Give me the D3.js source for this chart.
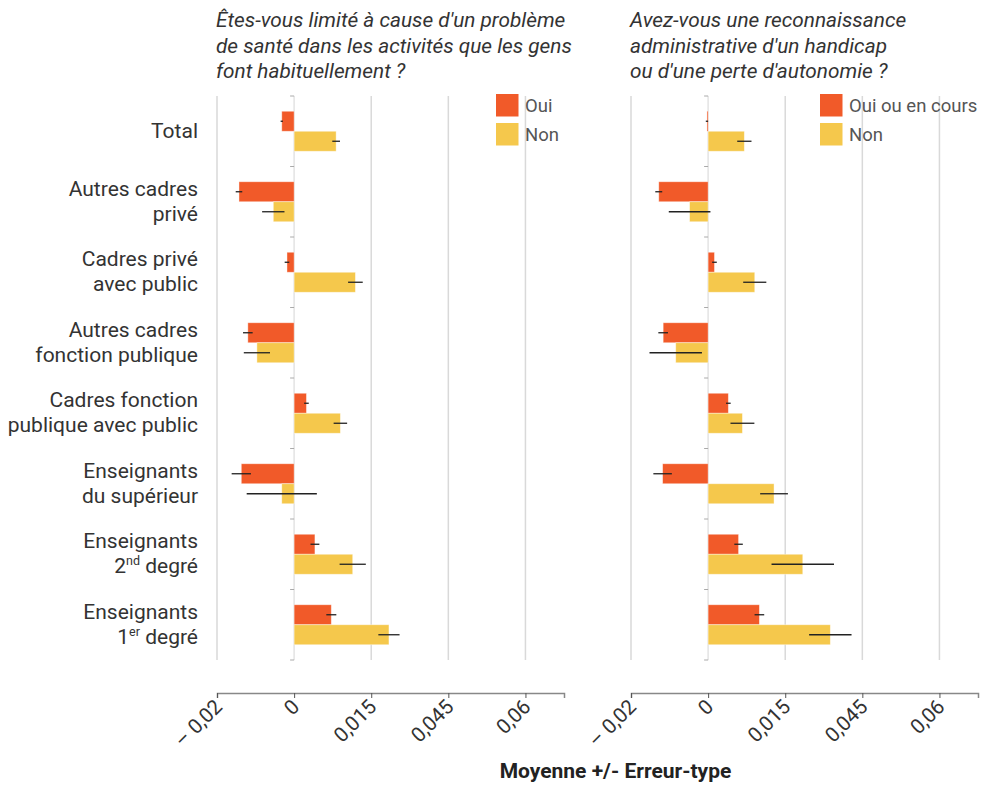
<!DOCTYPE html>
<html><head><meta charset="utf-8">
<script src="https://cdn.jsdelivr.net/npm/d3@7/dist/d3.min.js"></script>
<style>
body{margin:0;background:#fff;}
svg{display:block;font-family:Roboto, "DejaVu Sans", sans-serif;}
</style></head><body>
<svg id="chart" width="985" height="785"></svg>
<script>
const categories = ["Total","Autres cadres privé","Cadres privé avec public","Autres cadres fonction publique","Cadres fonction publique avec public","Enseignants du supérieur","Enseignants 2nd degré","Enseignants 1er degré"];
const categoryLines = [
  [["Total"]],
  [["Autres cadres"],["privé"]],
  [["Cadres privé"],["avec public"]],
  [["Autres cadres"],["fonction publique"]],
  [["Cadres fonction"],["publique avec public"]],
  [["Enseignants"],["du supérieur"]],
  [["Enseignants"],["2","nd"," degré"]],
  [["Enseignants"],["1","er"," degré"]]
];
const series = ["a","b"];
// Panel 1: limitation
const leftTitle = ["Êtes-vous limité à cause d'un problème","de santé dans les activités que les gens","font habituellement ?"];
const leftLegend = ["Oui","Non"];
const leftOui    = [-0.0032,-0.0143,-0.00185,-0.0120,0.0032,-0.0137,0.0054,0.00965];
const leftOuiErr = [0.0003,0.00085,0.0006,0.00125,0.0006,0.0025,0.00115,0.0013];
const leftNon    = [0.0109,-0.0054,0.0159,-0.00965,0.0120,-0.0032,0.0152,0.0246];
const leftNonErr = [0.0010,0.0029,0.0019,0.0034,0.00175,0.0091,0.0034,0.00275];
// Panel 2: reconnaissance
const rightTitle = ["Avez-vous une reconnaissance","administrative d'un handicap","ou d'une perte d'autonomie ?"];
const rightLegend = ["Oui ou en cours","Non"];
const rightOui    = [-0.0003,-0.0128,0.00165,-0.01166,0.00525,-0.0118,0.0079,0.0133];
const rightOuiErr = [0.0003,0.0009,0.0006,0.00125,0.0006,0.0024,0.0011,0.00125];
const rightNon    = [0.0094,-0.0048,0.0121,-0.0084,0.0089,0.0171,0.02455,0.0317];
const rightNonErr = [0.00185,0.0054,0.0030,0.0068,0.0031,0.0036,0.0081,0.0055];
const tickValues = [-0.02,0,0.02,0.04,0.06];
const tickLabels = ["– 0,02","0","0,015","0,045","0,06"];
const axisTitle = "Moyenne +/- Erreur-type";
const colors = {a:"#f15a29", b:"#f5c84c"};

const svg = d3.select("#chart");
const y0 = d3.scaleBand().domain(categories).range([96,660]);
const y1 = d3.scaleBand().domain(series).range([0,y0.bandwidth()]).paddingOuter(0.7625);
const axisY = 693;

// category labels
const lab = svg.append("g").attr("fill","#333").attr("font-size",21).attr("text-anchor","end");
categories.forEach((c,i)=>{
  const cy = y0(c)+y0.bandwidth()/2;
  const lines = categoryLines[i];
  const n = lines.length;
  lines.forEach((parts,j)=>{
    const base = cy + 6.5 + (j-(n-1)/2)*25;
    const t = lab.append("text").attr("x",198).attr("y",base);
    if(parts.length===1){ t.text(parts[0]); }
    else{
      t.append("tspan").text(parts[0]);
      t.append("tspan").attr("font-size",12.5).attr("dy",-8).text(parts[1]);
      t.append("tspan").attr("dy",8).text(parts[2]);
    }
  });
});

function panel(x0, title, legend, legendX, oui, ouiErr, non, nonErr){
  const x = d3.scaleLinear().domain([-0.02,0.07]).range([x0, x0+347]);
  const g = svg.append("g");
  // title
  const tt = g.append("text").attr("font-style","italic").attr("font-size",20.8).attr("fill","#333");
  title.forEach((l,i)=>tt.append("tspan").attr("x",x0-1).attr("y",27+i*25.5).text(l));
  // grid
  g.selectAll(".grid").data(tickValues.filter(v=>v!==0)).join("line")
    .attr("x1",d=>x(d)).attr("x2",d=>x(d)).attr("y1",96).attr("y2",660)
    .attr("stroke","#d9d9d9").attr("stroke-width",1.5);
  // zero line with band ticks
  g.append("line").attr("x1",x(0)).attr("x2",x(0)).attr("y1",96).attr("y2",660)
    .attr("stroke","#e3e3e3").attr("stroke-width",1.5);
  const bounds = categories.map(c=>y0(c)).concat([y0.range()[1]]);
  g.selectAll(".bt").data(bounds).join("line")
    .attr("x1",x(0)-4).attr("x2",x(0)).attr("y1",d=>d).attr("y2",d=>d)
    .attr("stroke","#aaa").attr("stroke-width",1);
  // bars
  const data = categories.map((c,i)=>({c, vals:[{s:"a",v:oui[i],e:ouiErr[i]},{s:"b",v:non[i],e:nonErr[i]}]}));
  const cg = g.selectAll(".cat").data(data).join("g").attr("transform",d=>`translate(0,${y0(d.c)})`);
  cg.selectAll("rect").data(d=>d.vals).join("rect")
    .attr("x",d=>x(Math.min(0,d.v))).attr("width",d=>Math.abs(x(d.v)-x(0)))
    .attr("y",d=>y1(d.s)).attr("height",y1.bandwidth())
    .attr("fill",d=>colors[d.s]).attr("stroke","rgba(255,255,255,0.5)").attr("stroke-width",0.8);
  cg.selectAll("line.err").data(d=>d.vals).join("line").attr("class","err")
    .attr("x1",d=>x(d.v-d.e)).attr("x2",d=>x(d.v+d.e))
    .attr("y1",d=>y1(d.s)+y1.bandwidth()/2).attr("y2",d=>y1(d.s)+y1.bandwidth()/2)
    .attr("stroke","#222").attr("stroke-width",1.3);
  // legend
  legend.forEach((l,i)=>{
    g.append("rect").attr("x",legendX).attr("y",94+i*29).attr("width",22.5).attr("height",22.5).attr("fill",colors[series[i]]);
    g.append("text").attr("x",legendX+29).attr("y",112+i*29).attr("font-size",18.5).attr("fill","#555").text(l);
  });
  // x axis
  const xa = d3.axisBottom(x).tickValues(tickValues).tickSize(5).tickFormat((d,i)=>tickLabels[i]);
  const ax = g.append("g").attr("transform",`translate(0,${axisY})`).call(xa);
  ax.select(".domain").attr("stroke","#888").attr("stroke-width",1.5);
  ax.selectAll(".tick line").attr("stroke","#555");
  ax.selectAll(".tick text").attr("font-size",20.5).attr("fill","#333")
    .attr("font-family","Roboto, sans-serif")
    .attr("text-anchor","end").attr("dy",0).attr("y",0)
    .attr("transform","translate(6,15) rotate(-45)");
}
panel(217, leftTitle, leftLegend, 496, leftOui, leftOuiErr, leftNon, leftNonErr);
panel(631, rightTitle, rightLegend, 820, rightOui, rightOuiErr, rightNon, rightNonErr);

svg.append("text").attr("x",615.5).attr("y",778).attr("text-anchor","middle")
  .attr("font-weight","bold").attr("font-size",21).attr("fill","#222").text(axisTitle);
</script></body></html>
